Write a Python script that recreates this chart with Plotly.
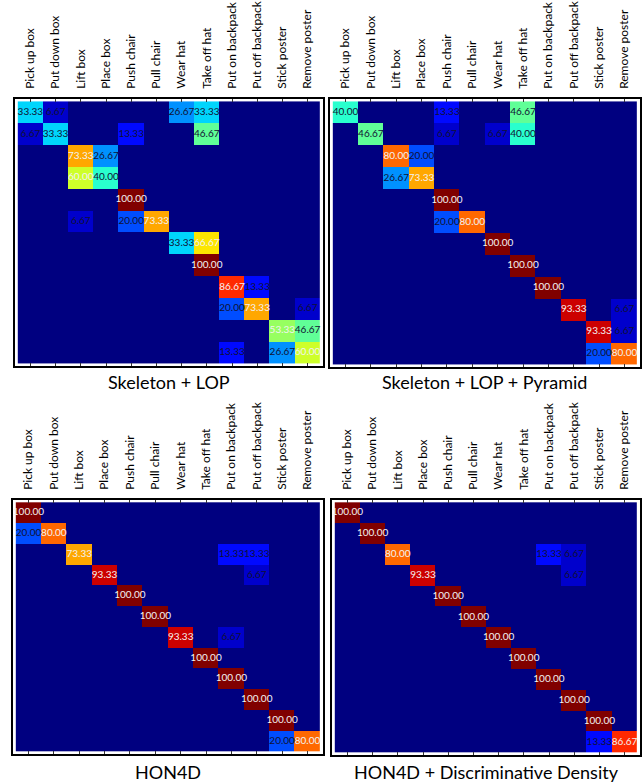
import numpy as np
import plotly.graph_objects as go

classes = ["Pick up box", "Put down box", "Lift box", "Place box", "Push chair",
           "Pull chair", "Wear hat", "Take off hat", "Put on backpack",
           "Put off backpack", "Stick poster", "Remove poster"]

skeleton_lop = [
    [33.33, 6.67, 0, 0, 0, 0, 26.67, 33.33, 0, 0, 0, 0],
    [6.67, 33.33, 0, 0, 13.33, 0, 0, 46.67, 0, 0, 0, 0],
    [0, 0, 73.33, 26.67, 0, 0, 0, 0, 0, 0, 0, 0],
    [0, 0, 60.00, 40.00, 0, 0, 0, 0, 0, 0, 0, 0],
    [0, 0, 0, 0, 100.00, 0, 0, 0, 0, 0, 0, 0],
    [0, 0, 6.67, 0, 20.00, 73.33, 0, 0, 0, 0, 0, 0],
    [0, 0, 0, 0, 0, 0, 33.33, 66.67, 0, 0, 0, 0],
    [0, 0, 0, 0, 0, 0, 0, 100.00, 0, 0, 0, 0],
    [0, 0, 0, 0, 0, 0, 0, 0, 86.67, 13.33, 0, 0],
    [0, 0, 0, 0, 0, 0, 0, 0, 20.00, 73.33, 0, 6.67],
    [0, 0, 0, 0, 0, 0, 0, 0, 0, 0, 53.33, 46.67],
    [0, 0, 0, 0, 0, 0, 0, 0, 13.33, 0, 26.67, 60.00],
]

skeleton_lop_pyramid = [
    [40.00, 0, 0, 0, 13.33, 0, 0, 46.67, 0, 0, 0, 0],
    [0, 46.67, 0, 0, 6.67, 0, 6.67, 40.00, 0, 0, 0, 0],
    [0, 0, 80.00, 20.00, 0, 0, 0, 0, 0, 0, 0, 0],
    [0, 0, 26.67, 73.33, 0, 0, 0, 0, 0, 0, 0, 0],
    [0, 0, 0, 0, 100.00, 0, 0, 0, 0, 0, 0, 0],
    [0, 0, 0, 0, 20.00, 80.00, 0, 0, 0, 0, 0, 0],
    [0, 0, 0, 0, 0, 0, 100.00, 0, 0, 0, 0, 0],
    [0, 0, 0, 0, 0, 0, 0, 100.00, 0, 0, 0, 0],
    [0, 0, 0, 0, 0, 0, 0, 0, 100.00, 0, 0, 0],
    [0, 0, 0, 0, 0, 0, 0, 0, 0, 93.33, 0, 6.67],
    [0, 0, 0, 0, 0, 0, 0, 0, 0, 0, 93.33, 6.67],
    [0, 0, 0, 0, 0, 0, 0, 0, 0, 0, 20.00, 80.00],
]

hon4d = [
    [100.00, 0, 0, 0, 0, 0, 0, 0, 0, 0, 0, 0],
    [20.00, 80.00, 0, 0, 0, 0, 0, 0, 0, 0, 0, 0],
    [0, 0, 73.33, 0, 0, 0, 0, 0, 13.33, 13.33, 0, 0],
    [0, 0, 0, 93.33, 0, 0, 0, 0, 0, 6.67, 0, 0],
    [0, 0, 0, 0, 100.00, 0, 0, 0, 0, 0, 0, 0],
    [0, 0, 0, 0, 0, 100.00, 0, 0, 0, 0, 0, 0],
    [0, 0, 0, 0, 0, 0, 93.33, 0, 6.67, 0, 0, 0],
    [0, 0, 0, 0, 0, 0, 0, 100.00, 0, 0, 0, 0],
    [0, 0, 0, 0, 0, 0, 0, 0, 100.00, 0, 0, 0],
    [0, 0, 0, 0, 0, 0, 0, 0, 0, 100.00, 0, 0],
    [0, 0, 0, 0, 0, 0, 0, 0, 0, 0, 100.00, 0],
    [0, 0, 0, 0, 0, 0, 0, 0, 0, 0, 20.00, 80.00],
]

hon4d_dd = [
    [100.00, 0, 0, 0, 0, 0, 0, 0, 0, 0, 0, 0],
    [0, 100.00, 0, 0, 0, 0, 0, 0, 0, 0, 0, 0],
    [0, 0, 80.00, 0, 0, 0, 0, 0, 13.33, 6.67, 0, 0],
    [0, 0, 0, 93.33, 0, 0, 0, 0, 0, 6.67, 0, 0],
    [0, 0, 0, 0, 100.00, 0, 0, 0, 0, 0, 0, 0],
    [0, 0, 0, 0, 0, 100.00, 0, 0, 0, 0, 0, 0],
    [0, 0, 0, 0, 0, 0, 100.00, 0, 0, 0, 0, 0],
    [0, 0, 0, 0, 0, 0, 0, 100.00, 0, 0, 0, 0],
    [0, 0, 0, 0, 0, 0, 0, 0, 100.00, 0, 0, 0],
    [0, 0, 0, 0, 0, 0, 0, 0, 0, 100.00, 0, 0],
    [0, 0, 0, 0, 0, 0, 0, 0, 0, 0, 100.00, 0],
    [0, 0, 0, 0, 0, 0, 0, 0, 0, 0, 13.33, 86.67],
]

titles = ["Skeleton + LOP", "Skeleton + LOP + Pyramid", "HON4D",
          "HON4D + Discriminative Density"]
matrices = [skeleton_lop, skeleton_lop_pyramid, hon4d, hon4d_dd]

# matplotlib "jet" colormap
_jet = {
    "red": [(0, 0), (0.35, 0), (0.66, 1), (0.89, 1), (1, 0.5)],
    "green": [(0, 0), (0.125, 0), (0.375, 1), (0.64, 1), (0.91, 0), (1, 0)],
    "blue": [(0, 0.5), (0.11, 1), (0.34, 1), (0.65, 0), (1, 0)],
}
def _ch(name, t):
    pts = _jet[name]
    return float(np.interp(t, [p[0] for p in pts], [p[1] for p in pts]))
stops = np.linspace(0, 1, 41)
jet = [[float(t), "rgb(%d,%d,%d)" % (round(255 * _ch("red", t)),
                                       round(255 * _ch("green", t)),
                                       round(255 * _ch("blue", t)))] for t in stops]

W, H = 644, 783
# pixel boxes (left, right, top, bottom)
boxes = [(15, 323, 99, 366), (330, 640, 99, 367), (13, 323, 500, 754), (332, 640, 500, 755)]
title_y = [382, 382, 772, 772]

FONT = "Lato, 'Open Sans', sans-serif"

fig = go.Figure()
for i, (mat, (l, r, t, b)) in enumerate(zip(matrices, boxes)):
    xa = "x" if i == 0 else "x%d" % (i + 1)
    ya = "y" if i == 0 else "y%d" % (i + 1)
    z = np.array(mat, dtype=float)
    fig.add_trace(go.Heatmap(z=z, x=classes, y=classes, colorscale=jet, zmin=0, zmax=100,
                             showscale=False, xaxis=xa, yaxis=ya, hoverinfo="skip", xgap=0, ygap=0))
    tx, ty, tt, tc = [], [], [], []
    for ri in range(len(classes)):
        for ci in range(len(classes)):
            v = mat[ri][ci]
            if v > 0:
                tx.append(classes[ci]); ty.append(classes[ri])
                tt.append("%.2f" % v)
                tc.append("#f2f2f2" if v >= 50 else "#111133")
    fig.add_trace(go.Scatter(x=tx, y=ty, text=tt, mode="text", xaxis=xa, yaxis=ya,
                             textfont=dict(color=tc, size=10, family=FONT),
                             cliponaxis=True, showlegend=False, hoverinfo="skip"))
    axkey = "xaxis" if i == 0 else "xaxis%d" % (i + 1)
    aykey = "yaxis" if i == 0 else "yaxis%d" % (i + 1)
    fig.layout[axkey] = dict(domain=[l / W, r / W], anchor=ya, side="top", tickangle=-90,
                             type="category", categoryorder="array", categoryarray=classes,
                             tickfont=dict(family=FONT, size=12, color="black"),
                             ticks="inside", ticklen=3, tickcolor="#333", mirror="ticks",
                             showline=True, linecolor="black", linewidth=1.5,
                             showgrid=False, zeroline=False, ticklabelstandoff=6,
                             fixedrange=True)
    fig.layout[aykey] = dict(domain=[1 - b / H, 1 - t / H], anchor=xa, autorange="reversed",
                             type="category", categoryorder="array", categoryarray=classes,
                             showticklabels=False, ticks="", showline=True, linecolor="black",
                             linewidth=1.5, mirror=True, showgrid=False, zeroline=False,
                             fixedrange=True)
    fig.add_annotation(text=titles[i], xref="paper", yref="paper",
                       x=(l + r) / 2 / W, y=1 - title_y[i] / H, showarrow=False,
                       xanchor="center", yanchor="middle",
                       font=dict(family=FONT, size=18, color="black"))

fig.update_layout(width=W, height=H, margin=dict(l=0, r=0, t=0, b=0),
                  paper_bgcolor="white", plot_bgcolor="white", showlegend=False)
fig.write_html("out.html", config={"displayModeBar": False},
               post_script="document.body.style.margin='0';document.body.style.overflow='hidden';")
